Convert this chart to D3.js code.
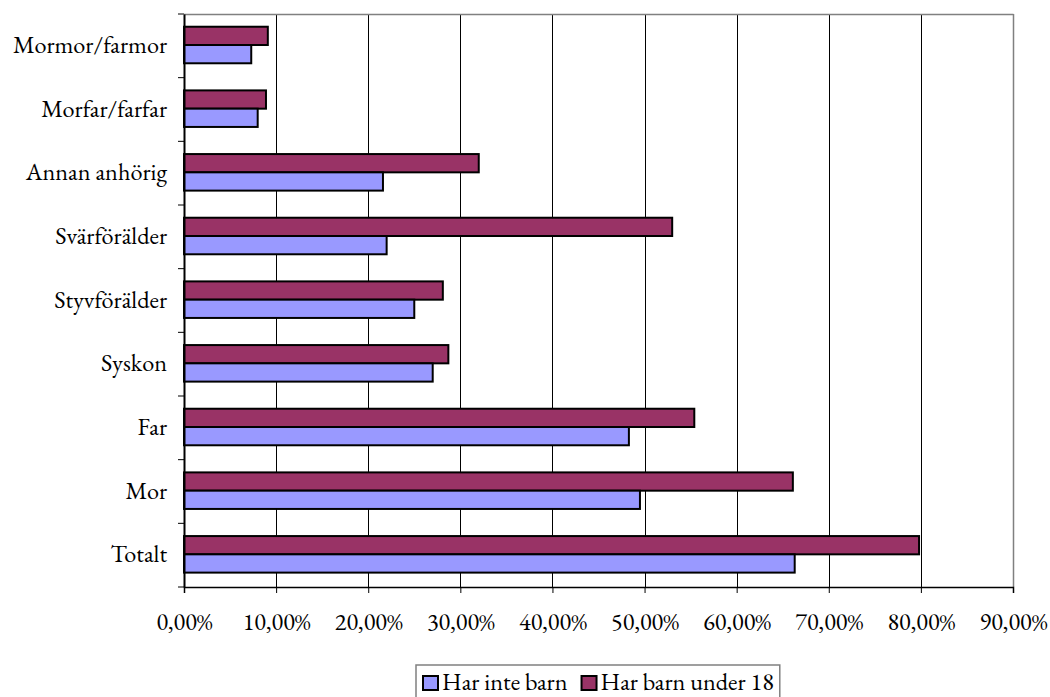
<!DOCTYPE html>
<html>
<head>
<meta charset="utf-8">
<script src="https://cdn.jsdelivr.net/npm/d3@7"></script>
<style>
  html, body { margin: 0; padding: 0; background: #fff; }
  svg { display: block; }
</style>
</head>
<body>
<svg id="chart" width="1050" height="697"></svg>
<script>
const categories = ["Mormor/farmor", "Morfar/farfar", "Annan anhörig", "Svärförälder", "Styvförälder", "Syskon", "Far", "Mor", "Totalt"];
const harInteBarn = [7.3, 8.0, 21.6, 22.0, 25.0, 27.0, 48.3, 49.5, 66.3];
const harBarnUnder18 = [9.1, 8.9, 32.0, 53.0, 28.1, 28.7, 55.4, 66.1, 79.8];
const tickValues = [0, 10, 20, 30, 40, 50, 60, 70, 80, 90];
const seriesNames = ["Har inte barn", "Har barn under 18"];
const seriesColors = ["#9999FF", "#993366"];

(function () {
const FONT = '"EB Garamond", "Liberation Serif", serif';
const svg = d3.select("#chart").style("font-family", FONT);

// measure font size so that the longest category label fits the reference width
const probe = svg.append("text").style("font-family", FONT).style("font-size", "100px").text("Mormor/farmor");
const probeLen = probe.node().getComputedTextLength();
probe.remove();
const fs = Math.max(16, Math.min(30, 100 * 154 / probeLen));

const pLeft = 184, pRight = 1013, pTop = 14, pBottom = 587;

const x = d3.scaleLinear().domain([0, 90]).range([pLeft, pRight]);
const y = d3.scaleBand().domain(categories).range([pTop, pBottom]);
const bw = y.bandwidth();
const barH = bw * 0.287;
const fmt = v => v.toFixed(2).replace(".", ",") + "%";

// Gridlines
svg.append("g").selectAll("line")
  .data(tickValues.filter(v => v > 0 && v < 90))
  .join("line")
  .attr("x1", d => Math.round(x(d)) + 0.5).attr("x2", d => Math.round(x(d)) + 0.5)
  .attr("y1", pTop).attr("y2", pBottom)
  .attr("stroke", "#000").attr("stroke-width", 1);

// Plot border (top/right gray)
svg.append("line").attr("x1", pLeft).attr("x2", pRight + 0.5).attr("y1", pTop + 0.5).attr("y2", pTop + 0.5)
  .attr("stroke", "#808080").attr("stroke-width", 1.5);
svg.append("line").attr("x1", pRight + 0.5).attr("x2", pRight + 0.5).attr("y1", pTop).attr("y2", pBottom)
  .attr("stroke", "#808080").attr("stroke-width", 1.5);

// Bars
const groups = svg.append("g").selectAll("g")
  .data(categories)
  .join("g")
  .attr("transform", d => `translate(0,${y(d)})`);

const redTop = bw * 0.2;
groups.append("rect")
  .attr("x", x(0))
  .attr("y", redTop)
  .attr("width", (d, i) => x(harBarnUnder18[i]) - x(0))
  .attr("height", barH)
  .attr("fill", seriesColors[1])
  .attr("stroke", "#000").attr("stroke-width", 2);

groups.append("rect")
  .attr("x", x(0))
  .attr("y", redTop + barH)
  .attr("width", (d, i) => x(harInteBarn[i]) - x(0))
  .attr("height", barH)
  .attr("fill", seriesColors[0])
  .attr("stroke", "#000").attr("stroke-width", 2);

// X axis
const xAxis = d3.axisBottom(x).tickValues(tickValues).tickFormat(fmt).tickSize(6).tickPadding(20);
const gx = svg.append("g").attr("transform", `translate(0,${pBottom})`).call(xAxis);
gx.attr("font-family", null).attr("font-size", null);
gx.select(".domain").attr("stroke", "#000").attr("stroke-width", 1.5);
gx.selectAll(".tick line").attr("stroke", "#000");
gx.selectAll(".tick text").style("font-size", fs + "px").style("font-family", FONT).attr("fill", "#000");

// Y axis
const yAxis = d3.axisLeft(y).tickSize(0).tickPadding(17);
const gy = svg.append("g").attr("transform", `translate(${pLeft},0)`).call(yAxis);
gy.attr("font-family", null).attr("font-size", null);
gy.select(".domain").attr("stroke", "#000").attr("stroke-width", 2);
gy.selectAll(".tick text").style("font-size", fs + "px").style("font-family", FONT).attr("fill", "#000").attr("dy", "0.3em");
// y boundary ticks
svg.append("g").selectAll("line")
  .data(d3.range(categories.length + 1))
  .join("line")
  .attr("x1", pLeft - 6).attr("x2", pLeft)
  .attr("y1", i => pTop + i * bw).attr("y2", i => pTop + i * bw)
  .attr("stroke", "#000").attr("stroke-width", 1);

// Legend
const lg = svg.append("g");
const box = lg.append("rect").attr("x", 416).attr("y", 665).attr("height", 40)
  .attr("fill", "#fff").attr("stroke", "#808080").attr("stroke-width", 1.5);
let cx = 423;
seriesNames.forEach((name, i) => {
  lg.append("rect").attr("x", cx).attr("y", 676).attr("width", 15).attr("height", 14)
    .attr("fill", seriesColors[i]).attr("stroke", "#000").attr("stroke-width", 2);
  const t = lg.append("text").attr("x", cx + 19).attr("y", 690)
    .style("font-family", FONT).style("font-size", fs + "px").attr("fill", "#000").text(name);
  cx += 19 + t.node().getComputedTextLength() + 14;
});
box.attr("width", cx - 416 - 8);
})();
</script>
</body>
</html>
